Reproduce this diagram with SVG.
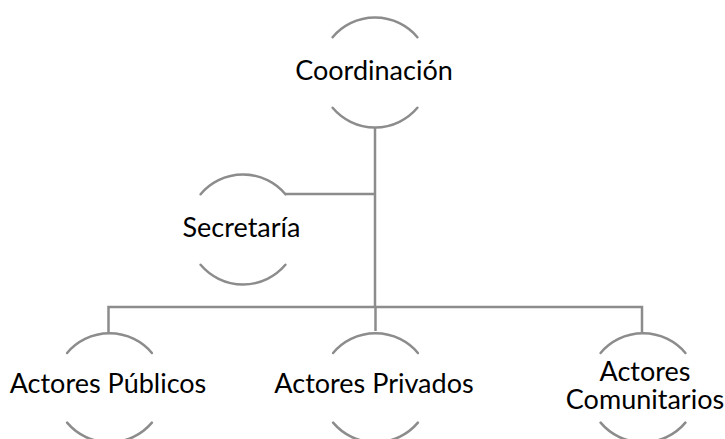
<svg xmlns="http://www.w3.org/2000/svg" width="725" height="439" viewBox="0 0 725 439">
<style>
.arc{fill:none;stroke:#8c8c8c;stroke-width:2.5;stroke-linecap:round}
.con{fill:none;stroke:#8c8c8c;stroke-width:2.5}
.lbl{font-family:Lato,"Liberation Sans",sans-serif;font-size:27px;fill:#000;text-anchor:middle}
</style>
<rect width="725" height="439" fill="#fff"/>
<g id="connectors">
<path class="con" d="M375,128 V307"/>
<path class="con" d="M285,194 H375"/>
<path class="con" d="M108.5,332 V307 H642 V332"/>
<path class="con" d="M375.5,307 V331"/>
</g>
<g id="coordinacion">
<path class="arc" d="M332.6,37.2 A55.5,55.5 0 0 1 417.4,37.2"/>
<path class="arc" d="M332.6,107.8 A55.5,55.5 0 0 0 417.4,107.8"/>
<text class="lbl" x="374" y="80">Coordinación</text>
</g>
<g id="secretaria">
<path class="arc" d="M200.6,194.2 A55.5,55.5 0 0 1 285.4,194.2"/>
<path class="arc" d="M200.6,264.8 A55.5,55.5 0 0 0 285.4,264.8"/>
<text class="lbl" x="241.5" y="237">Secretaría</text>
</g>
<g id="actores-publicos">
<path class="arc" d="M67.1,353 A55.5,55.5 0 0 1 151.9,353"/>
<path class="arc" d="M67.1,422.6 A55.5,55.5 0 0 0 151.9,422.6"/>
<text class="lbl" x="108" y="393">Actores Públicos</text>
</g>
<g id="actores-privados">
<path class="arc" d="M333.1,353 A55.5,55.5 0 0 1 417.9,353"/>
<path class="arc" d="M333.1,422.6 A55.5,55.5 0 0 0 417.9,422.6"/>
<text class="lbl" x="374" y="393">Actores Privados</text>
</g>
<g id="actores-comunitarios">
<path class="arc" d="M600.6,353 A55.5,55.5 0 0 1 685.4,353"/>
<path class="arc" d="M600.6,422.6 A55.5,55.5 0 0 0 685.4,422.6"/>
<text class="lbl" x="645" y="381">Actores</text>
<text class="lbl" x="645" y="409">Comunitarios</text>
</g>
</svg>
